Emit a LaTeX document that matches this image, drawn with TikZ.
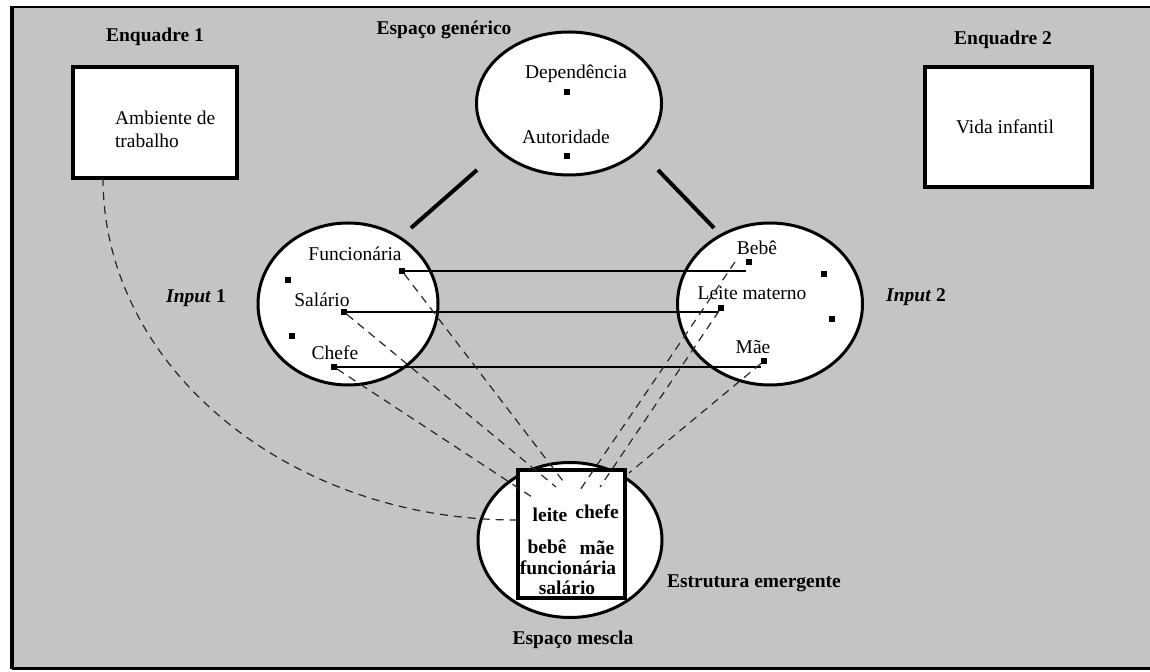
\documentclass[tikz,border=0pt]{standalone}
\usepackage{fontspec}
\setmainfont{Liberation Serif}
\usetikzlibrary{shapes.geometric}
\definecolor{bggray}{RGB}{196,196,196}
\begin{document}
\begin{tikzpicture}[x=0.5pt,y=-0.5pt,
  every node/.style={font=\fontsize{9.75}{11.5}\selectfont},
  lbl/.style={font=\fontsize{9.75}{11.5}\selectfont\bfseries},
  space/.style={ellipse, draw, line width=1.5pt, fill=white, inner sep=0pt},
  framebox/.style={rectangle, draw, line width=2pt, fill=white, inner sep=0pt},
  dot/.style={rectangle, fill=black, minimum size=2.6pt, inner sep=0pt},
  thicklink/.style={line width=2pt},
  maplink/.style={line width=0.7pt},
  proj/.style={line width=0.6pt, dash pattern=on 4pt off 3pt, draw=black!85}
]
\useasboundingbox (0,0) rectangle (1150,672);
\fill[white] (0,0) rectangle (1150,672);
% outer frame
\fill[bggray] (12,7) rectangle (1150,668);
\draw[line width=1pt] (1150,7) -- (12,7);
\draw[line width=1.6pt] (12,6) -- (12,669);
\draw[line width=1.2pt] (12,668.5) -- (1150,668.5);

% frames
\node[lbl] (enq1) at (155,37) {Enquadre 1};
\node[framebox, minimum width=82pt, minimum height=55.5pt] (box1) at (155,122.5) {};
\node[anchor=west, align=left] (box1t) at (108,129) {Ambiente de\\trabalho};
\node[lbl] (enq2) at (1003,40) {Enquadre 2};
\node[framebox, minimum width=83.5pt, minimum height=60pt] (box2) at (1008.5,127) {};
\node (box2t) at (1005,127) {Vida infantil};

% generic space
\node[lbl] (gent) at (444,30) {Espaço genérico};
\node[space, minimum width=92.5pt, minimum height=71.5pt] (gen) at (569,103.5) {};
\node (dep) at (576,74) {Dependência};
\node[dot] (depdot) at (567,92) {};
\node (aut) at (566,137) {Autoridade};
\node[dot] (autdot) at (567,156) {};

% inputs
\node[space, minimum width=90pt, minimum height=81pt] (in1) at (348,304) {};
\node[space, minimum width=92.5pt, minimum height=81pt] (in2) at (770,304) {};
\node (in1t) at (196,298) {\bfseries\itshape Input\/ \upshape 1};
\node (in2t) at (916,297) {\bfseries\itshape Input\/ \upshape 2};

\node (funt) at (355,254) {Funcionária};
\node[dot] (fdot) at (402,271) {};
\node (salt) at (322,300) {Salário};
\node[dot] (sdot) at (344,312) {};
\node (chet) at (335,353) {Chefe};
\node[dot] (cdot) at (334,367) {};
\node[dot] (x1dot) at (288,280) {};
\node[dot] (x2dot) at (292,336) {};

\node (bebt) at (757,248) {Bebê};
\node[dot] (bdot) at (749,262) {};
\node (leit) at (752,293) {Leite materno};
\node[dot] (ldot) at (721,308) {};
\node (maet) at (753,347) {Mãe};
\node[dot] (mdot) at (764,361) {};
\node[dot] (y1dot) at (824,274) {};
\node[dot] (y2dot) at (832,319) {};

% thick links generic -> inputs
\coordinate (g1) at (477,170);
\coordinate (i1) at (411,228);
\coordinate (g2) at (658,170);
\coordinate (i2) at (714,228);
\draw[thicklink] (g1) -- (i1);
\draw[thicklink] (g2) -- (i2);

% cross-space mappings
\draw[maplink] (fdot.east) -- (fdot.east -| bdot.west);
\draw[maplink] (sdot.east) -- (sdot.east -| ldot.west);
\draw[maplink] (cdot.east) -- (cdot.east -| mdot.west);

% blend
\node[space, minimum width=92pt, minimum height=77.5pt] (blend) at (570,540) {};
\node[framebox, minimum width=53.5pt, minimum height=64pt] (brect) at (571.5,534) {};
\node[lbl] (bl1) at (550,515) {leite};
\node[lbl] (bl2) at (597,512) {chefe};
\node[lbl] (bl3) at (547,547) {bebê};
\node[lbl] (bl4) at (597,548) {mãe};
\node[lbl] (bl5) at (568,568) {funcionária};
\node[lbl] (bl6) at (567,588) {salário};
\node[lbl, anchor=west] (emerg) at (660,583) {Estrutura emergente};
\node[lbl] (mescla) at (573,640) {Espaço mescla};

% projections into the blend
\coordinate (fend) at (566,485);
\coordinate (send) at (556,487);
\coordinate (cend) at (532,497);
\coordinate (bend) at (580,490);
\coordinate (lend) at (600,487);
\coordinate (mend) at (629,473);
\coordinate (e1) at (516,520);
\coordinate (c1) at (103,178);
\draw[proj] (fdot) -- (fend);
\draw[proj] (sdot) -- (send);
\draw[proj] (cdot) -- (cend);
\draw[proj] ([xshift=-7pt,yshift=0pt]bdot.center) -- (bend);
\draw[proj] (ldot) -- (lend);
\draw[proj] (mdot) -- (mend);
\draw[proj] (c1) .. controls (103,367) and (288,520) .. (e1);
\end{tikzpicture}
\end{document}
